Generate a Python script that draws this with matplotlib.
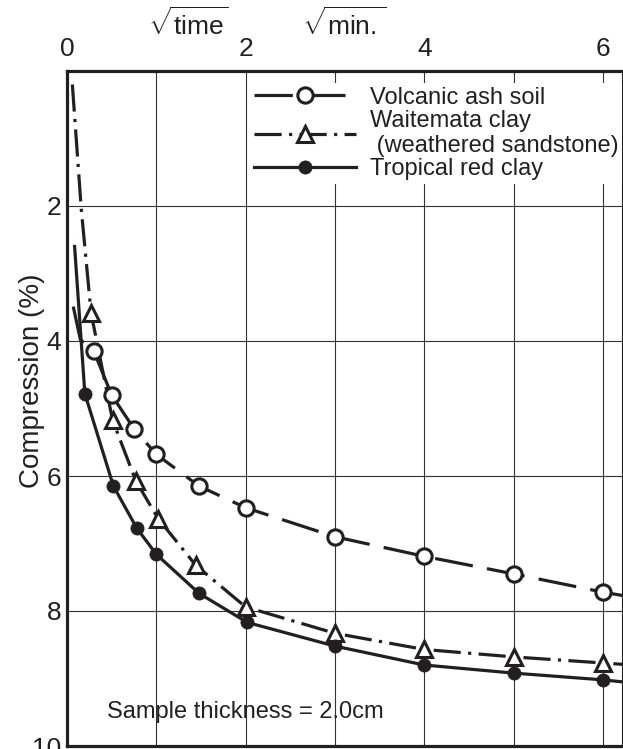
import matplotlib
matplotlib.use("Agg")
import matplotlib.pyplot as plt
from matplotlib.legend_handler import HandlerTuple

plt.rcParams['font.family'] = ['Liberation Sans', 'DejaVu Sans']
plt.rcParams['mathtext.fontset'] = 'custom'
plt.rcParams['mathtext.rm'] = 'Liberation Sans'
plt.rcParams['mathtext.it'] = 'Liberation Sans:italic'
plt.rcParams['mathtext.bf'] = 'Liberation Sans:bold'

INK = '#231f20'

# sqrt(time) in sqrt(min.) vs compression (%)
ash_x = [0.3, 0.5, 0.75, 1.0, 1.48, 2.0, 3.0, 4.0, 5.0, 6.0]
ash_y = [4.15, 4.8, 5.3, 5.68, 6.15, 6.47, 6.9, 7.19, 7.45, 7.72]
ash_head_x = [0.07, 0.15]
ash_head_y = [3.49, 3.98]
ash_tail_x = [6.22]
ash_tail_y = [7.77]

tri_x = [0.27, 0.51, 0.77, 1.02, 1.44, 2.0, 3.0, 4.0, 5.0, 6.0]
tri_y = [3.59, 5.17, 6.07, 6.63, 7.32, 7.94, 8.33, 8.57, 8.68, 8.77]
tri_head_x = [0.06, 0.16, 0.21]
tri_head_y = [0.2, 2.05, 2.75]
tri_tail_x = [6.22]
tri_tail_y = [8.79]

red_x = [0.2, 0.52, 0.78, 1.0, 1.48, 2.02, 3.0, 4.0, 5.0, 6.0]
red_y = [4.78, 6.15, 6.77, 7.16, 7.74, 8.17, 8.52, 8.8, 8.92, 9.02]
red_head_x = [0.085]
red_head_y = [2.6]
red_tail_x = [6.22]
red_tail_y = [9.05]

labels = ['Volcanic ash soil', 'Waitemata clay\n (weathered sandstone)', 'Tropical red clay']
x_ticks = [0, 2, 4, 6]
x_minor = [1, 3, 5]
y_ticks = [2, 4, 6, 8, 10]

fig = plt.figure(figsize=(6.23, 7.49), dpi=100)
ax = fig.add_axes([67 / 623, 3 / 749, 555 / 623, 675 / 749])

lw = 2.3
ash_ln, = ax.plot(ash_head_x + ash_x + ash_tail_x, ash_head_y + ash_y + ash_tail_y,
                  color=INK, lw=lw, dashes=(12, 4.5), zorder=3)
ash_pts, = ax.plot(ash_x, ash_y, ls='none', marker='o', ms=11, mfc='white',
                   mec=INK, mew=2.2, zorder=4)

tri_ln, = ax.plot(tri_head_x + tri_x + tri_tail_x, tri_head_y + tri_y + tri_tail_y,
                  color=INK, lw=lw, dashes=(8.5, 2.3, 1, 2.3), zorder=3)
tri_pts, = ax.plot(tri_x, tri_y, ls='none', marker='^', ms=11, mfc='white',
                   mec=INK, mew=2.2, zorder=4)

red_ln, = ax.plot(red_head_x + red_x + red_tail_x, red_head_y + red_y + red_tail_y,
                  color=INK, lw=lw, zorder=3)
red_pts, = ax.plot(red_x, red_y, ls='none', marker='o', ms=9.5, mfc=INK,
                   mec=INK, mew=0.5, zorder=4)

ax.set_xlim(0, 6.215)
ax.set_ylim(10, 0)

ax.set_xticks(x_ticks)
ax.set_xticks(x_minor, minor=True)
ax.set_yticks(y_ticks)
ax.set_axisbelow(True)
ax.grid(True, which='both', axis='x', color='#333333', lw=0.8)
ax.grid(True, which='major', axis='y', color='#333333', lw=0.8)

ax.xaxis.tick_top()
ax.tick_params(axis='both', which='both', length=0, labelsize=19, colors=INK)
ax.tick_params(axis='x', pad=7)
ax.tick_params(axis='y', pad=4)

for side in ['left', 'top', 'bottom']:
    ax.spines[side].set_linewidth(2.3)
    ax.spines[side].set_color(INK)
ax.spines['right'].set_linewidth(0.8)
ax.spines['right'].set_color(INK)

leg = ax.legend([(ash_ln, ash_pts), (tri_ln, tri_pts), (red_ln, red_pts)], labels,
                handler_map={tuple: HandlerTuple(ndivide=1, pad=0)},
                loc='upper right', bbox_to_anchor=(1.0, 0.982), borderaxespad=0,
                borderpad=0.15, handlelength=4.3, handletextpad=0.6,
                labelspacing=0.05, fontsize=17, numpoints=1,
                frameon=True, facecolor='white', edgecolor='none', framealpha=1,
                fancybox=False)
for t in leg.get_texts():
    t.set_color(INK)

ax.text(0.45, 9.5, 'Sample thickness = 2.0cm', fontsize=17, color=INK, va='center')

fig.text(32 / 623, 1 - 381 / 749, 'Compression (%)', rotation=90, fontsize=20,
         color=INK, ha='center', va='center')
fig.text(188 / 623, 1 - 35 / 749, r'$\sqrt{\mathrm{time}}$', fontsize=19,
         color=INK, ha='center', va='baseline')
fig.text(344 / 623, 1 - 35 / 749, r'$\sqrt{\mathrm{min.}}$', fontsize=19,
         color=INK, ha='center', va='baseline')

fig.savefig('out.png', dpi=100)
